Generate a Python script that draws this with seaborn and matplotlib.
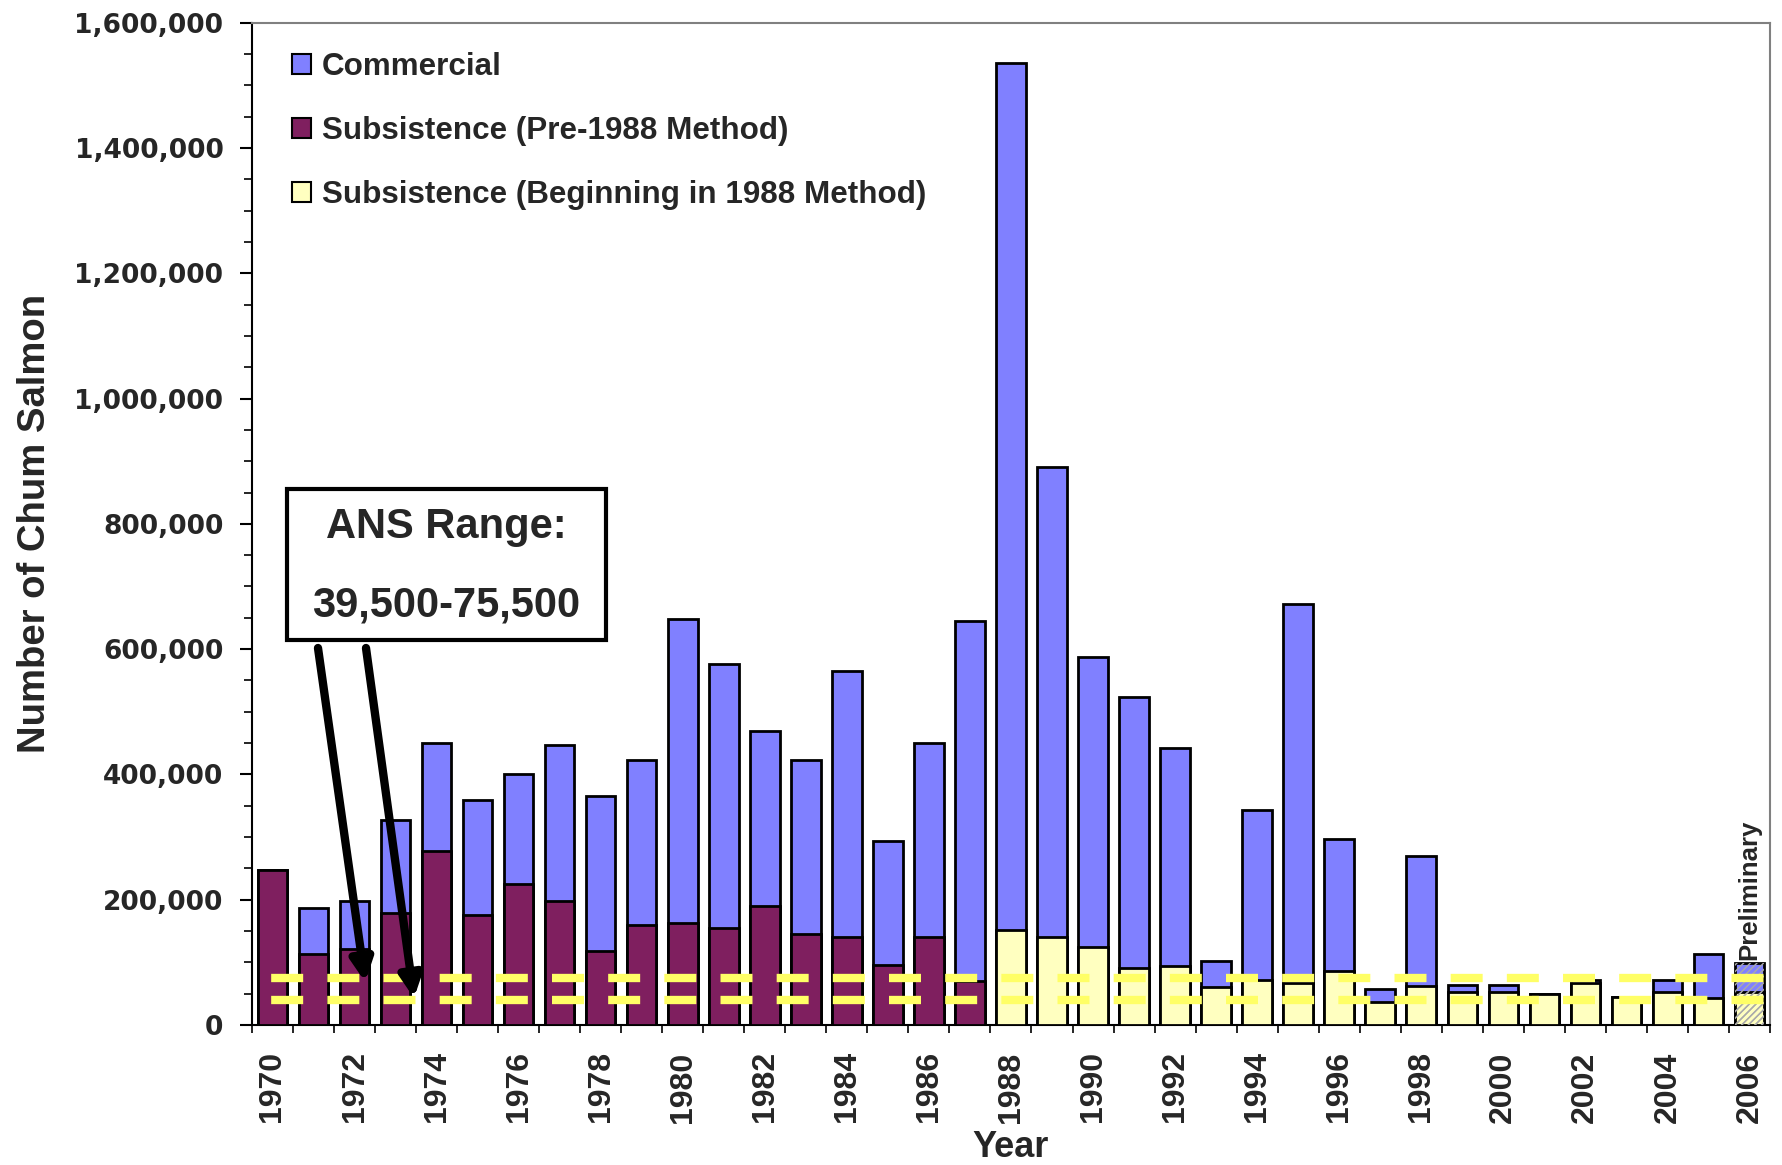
import numpy as np
import pandas as pd
import matplotlib
matplotlib.use('Agg')
import matplotlib.pyplot as plt
import seaborn as sns
from matplotlib.patches import Patch, Rectangle

# Chum salmon harvest by year
years = list(range(1970, 2007))
subsistence = [248000, 113000, 121000, 178000, 278000, 175000, 225000, 198000, 118000, 159000,
               163000, 155000, 190000, 145000, 140000, 95000, 140000, 70500, 151500, 140000,
               125000, 90500, 94500, 60000, 72000, 67600, 86700, 36700, 62800, 52100,
               52100, 49000, 67600, 45200, 52100, 43600, 52100]
commercial = [0, 73000, 77000, 150000, 172000, 184000, 176000, 249000, 248000, 264000,
              485500, 422000, 279000, 278500, 425000, 198000, 310000, 574500, 1384500, 751000,
              463000, 432500, 348100, 42000, 271700, 604400, 210700, 20200, 207500, 12300,
              12300, 0, 4200, 0, 19700, 69700, 46900]
method_change_year = 1988
preliminary_year = 2006
ans_low, ans_high = 39500, 75500
label_years = list(range(1970, 2007, 2))
yticks = list(range(0, 1600001, 200000))

c_comm = '#8080FF'
c_pre = '#7F1F5F'
c_post = '#FFFFC0'
c_ans = '#FFFF66'

df = pd.DataFrame({'Year': [str(y) for y in years],
                   'Subsistence': subsistence,
                   'Commercial': commercial})
df['Total'] = df['Subsistence'] + df['Commercial']
df['Method'] = np.where(np.array(years) < method_change_year, 'Pre', 'Post')

sns.set_theme(style='white')
plt.rcParams['font.family'] = ['Liberation Sans', 'DejaVu Sans']

fig = plt.figure(figsize=(17.83, 11.65), dpi=100)
ax = fig.add_axes([0.1413, 0.1202, 0.8514, 0.8603])

# stacked bars: total first (commercial shows on top), subsistence over it
sns.barplot(data=df, x='Year', y='Total', color=c_comm, saturation=1, width=0.72,
            edgecolor='black', linewidth=2, errorbar=None, ax=ax, zorder=2)
sns.barplot(data=df, x='Year', y='Subsistence', hue='Method',
            palette={'Pre': c_pre, 'Post': c_post}, dodge=False, saturation=1, width=0.72,
            edgecolor='black', linewidth=2, errorbar=None, legend=False, ax=ax, zorder=3)

# hatch the preliminary year
idx_pre = years.index(preliminary_year)
for p in list(ax.patches):
    if abs(p.get_x() + p.get_width() / 2 - idx_pre) < 0.1 and p.get_height() > 0:
        ax.add_patch(Rectangle((p.get_x(), p.get_y()), p.get_width(), p.get_height(),
                               fill=False, edgecolor='#aaaaaa', hatch='/////', linewidth=0,
                               zorder=4))

# ANS range lines
for v in (ans_low, ans_high):
    ax.axhline(v, color=c_ans, lw=6, linestyle=(4.44, (3.84, 2.9)), zorder=5)

ax.set_xlim(-0.5, len(years) - 0.5)
ax.set_ylim(0, 1600000)

# y axis
ax.set_yticks(yticks, [f'{v:,}' for v in yticks], fontsize=19, fontweight='bold',
              fontfamily='DejaVu Sans')
ax.set_yticks(list(range(0, 1600001, 50000)), minor=True)
ax.tick_params(axis='y', which='major', direction='out', length=9, width=1.5, pad=11.5,
               color='black', left=True)
ax.tick_params(axis='y', which='minor', direction='out', length=6, width=1.2,
               color='black', left=True)

# x axis: ticks between bars, labels every other year
ax.set_xticks([i - 0.5 for i in range(len(years) + 1)], [''] * (len(years) + 1))
ax.set_xticks([years.index(y) for y in label_years], [str(y) for y in label_years],
              minor=True, rotation=90, fontsize=23, fontweight='bold')
ax.tick_params(axis='x', which='major', direction='out', length=6, width=1.2,
               color='black', bottom=True)
ax.tick_params(axis='x', which='minor', length=0, pad=19)

ax.set_xlabel('Year', fontsize=26, fontweight='bold')
ax.xaxis.set_label_coords(0.5, -0.105)
ax.set_ylabel('Number of Chum Salmon', fontsize=27.5, fontweight='bold')
ax.yaxis.set_label_coords(-0.131, 0.5)

for s in ['left', 'bottom']:
    ax.spines[s].set_color('black')
    ax.spines[s].set_linewidth(1.5)
for s in ['top', 'right']:
    ax.spines[s].set_color('#808080')
    ax.spines[s].set_linewidth(1.5)

# legend
handles = [Patch(facecolor=c_comm, edgecolor='black', lw=1.5, label='Commercial'),
           Patch(facecolor=c_pre, edgecolor='black', lw=1.5, label='Subsistence (Pre-1988 Method)'),
           Patch(facecolor=c_post, edgecolor='black', lw=1.5,
                 label='Subsistence (Beginning in 1988 Method)')]
leg = ax.legend(handles=handles, loc='upper left', bbox_to_anchor=(0.018, 0.983), frameon=False,
                prop={'size': 22.6, 'weight': 'bold'}, handlelength=0.6, handleheight=0.6,
                handletextpad=0.35, labelspacing=1.08, borderaxespad=0)

# ANS range box and arrows
ax.add_patch(Rectangle((0.023, 0.384), 0.210, 0.151, transform=ax.transAxes,
                       facecolor='white', edgecolor='black', lw=3, zorder=6))
ax.text(0.128, 0.497, 'ANS Range:', transform=ax.transAxes, ha='center', va='center',
        fontsize=30, fontweight='bold', zorder=7)
ax.text(0.128, 0.419, '39,500-75,500', transform=ax.transAxes, ha='center', va='center',
        fontsize=30, fontweight='bold', zorder=7)
arrow_kw = dict(arrowstyle='-|>', lw=6, color='black', mutation_scale=32,
                shrinkA=0, shrinkB=0)
ax.annotate('', xy=(2.26, 68600), xytext=(1.11, 601800), arrowprops=arrow_kw, zorder=8)
ax.annotate('', xy=(3.45, 43000), xytext=(2.28, 601800), arrowprops=arrow_kw, zorder=8)

ax.text(idx_pre, df['Total'].iloc[idx_pre] + 5000, 'Preliminary', rotation=90,
        ha='center', va='bottom', fontsize=18.5, fontweight='bold', zorder=7)

plt.savefig('out.png', dpi=100)
plt.close()
